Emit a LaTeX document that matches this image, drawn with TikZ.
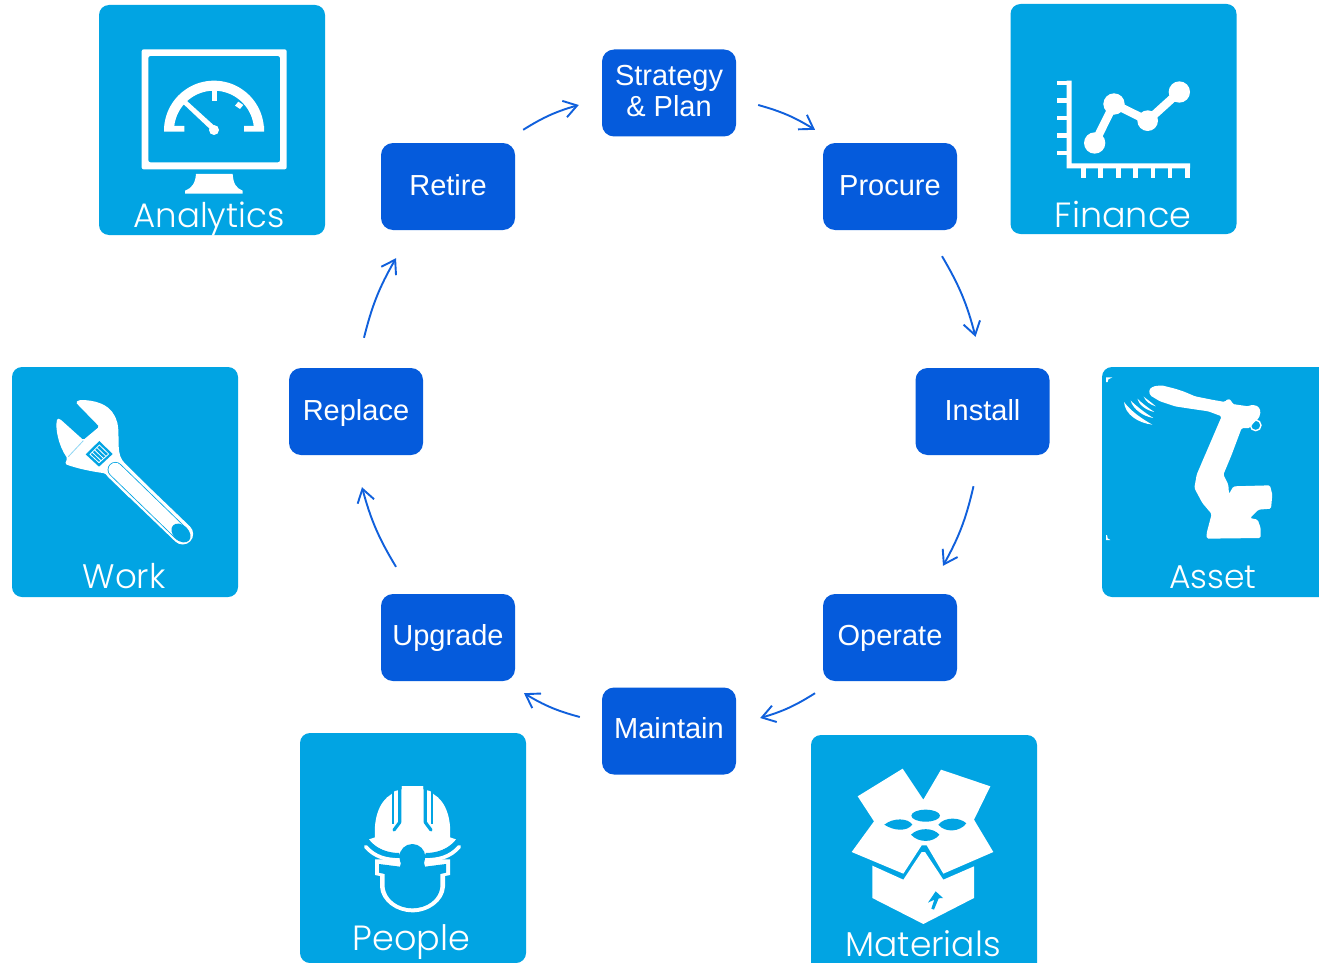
\documentclass[tikz,border=0pt]{standalone}
\usepackage{fontspec}
\setmainfont{Liberation Sans}
\newfontfamily\labfont{Poppins Light}
\usetikzlibrary{arrows.meta}
\definecolor{tileblue}{RGB}{1,164,227}
\definecolor{stepblue}{RGB}{5,91,220}
\definecolor{linkblue}{RGB}{16,96,220}
\tikzset{
  stepbox/.style={draw=none,fill=stepblue,rounded corners=12pt,inner sep=0pt,text=white,align=center,
    minimum width=134pt,minimum height=87pt,font=\fontsize{29}{31}\selectfont},
  oneline/.style={stepbox,align=none,text height=24pt,text depth=6pt},
  tile/.style={draw=none,fill=tileblue,rounded corners=10pt,inner sep=0pt,minimum width=226pt,minimum height=230pt},
  tilelabel/.style={text=white,inner sep=0pt,anchor=base,font=\labfont\fontsize{35}{38}\selectfont},
  link/.style={draw=linkblue,line width=1.9pt,-{Straight Barb[length=13pt,width=17pt,line width=1.9pt]},bend left=8},
  ic/.style={x=0.33333pt,y=-0.33333pt},
}
\begin{document}
\begin{tikzpicture}[x=1pt,y=-1pt]
\useasboundingbox (0,0) rectangle (1319,963);
\clip (0,0) rectangle (1319,963);
\fill[white] (0,0) rectangle (1319,963);
% tiles
\node[tile] (tanalytics) at (212,120) {};
\node[tile] (tfinance) at (1123.5,119) {};
\node[tile,minimum width=240pt] (tasset) at (1222,482) {};
\node[tile] (twork) at (125,482) {};
\node[tile] (tpeople) at (413,848) {};
\node[tile,minimum height=240pt] (tmaterials) at (924,855) {};
% step boxes
\node[stepbox,text depth=3.5pt] (strategy) at (669,93) {Strategy\\\& Plan};
\node[oneline] (procure) at (890,186.5) {Procure};
\node[oneline] (install) at (982.5,411.5) {Install};
\node[oneline,text depth=7.5pt] (operate) at (890,637.5) {Operate};
\node[oneline,text depth=9pt] (maintain) at (669,731) {Maintain};
\node[oneline,text depth=7.5pt] (upgrade) at (448,637.5) {Upgrade};
\node[oneline] (replace) at (356,411.5) {Replace};
\node[oneline] (retire) at (448,186.5) {Retire};
% connectors
\draw[link] ([shift={(8,-13)}]retire.north east) to ([shift={(-23,12)}]strategy.west);
\draw[link] ([shift={(22,12)}]strategy.east) to ([shift={(-75,-13)}]procure.north);
\draw[link] ([shift={(52,26)}]procure.south) to ([shift={(-7,-31)}]install.north);
\draw[link] ([shift={(-9,31)}]install.south) to ([shift={(53,-28)}]operate.north);
\draw[link] ([shift={(-75,12)}]operate.south) to ([shift={(24,-13)}]maintain.east);
\draw[link] ([shift={(-22,-14)}]maintain.west) to ([shift={(76,12)}]upgrade.south);
\draw[link] ([shift={(-52,-27)}]upgrade.north) to ([shift={(6,32)}]replace.south);
\draw[link] ([shift={(8,-30)}]replace.north) to ([shift={(-52,28)}]retire.south);
% labels
\node[tilelabel,font=\labfont\fontsize{34}{38}\selectfont] (lanalytics) at (209,227) {Analytics};
\node[tilelabel] (lfinance) at (1123,227) {Finance};
\node[tilelabel,font=\labfont\fontsize{33}{38}\selectfont] (lasset) at (1213,588) {Asset};
\node[tilelabel,font=\labfont\fontsize{34}{38}\selectfont] (lwork) at (124,588) {Work};
\node[tilelabel] (lpeople) at (411.5,950) {People};
\node[tilelabel,font=\labfont\fontsize{34.5}{38}\selectfont] (lmaterials) at (923,956) {\raisebox{0pt}[\height][0pt]{Materials}};
% --- Analytics icon
\begin{scope}[shift={(90pt,0pt)},ic]
\fill[white,rounded corners=2pt,even odd rule] (155,148) rectangle (590,508) (175,168) rectangle (570,487);
\fill[white] (318,522) -- (428,522) .. controls (430,550) and (438,565) .. (458,572) -- (458,581) -- (285,581) -- (285,572) .. controls (305,565) and (316,550) .. (318,522) -- cycle;
\draw[white,line width=10pt] plot[domain=180:360,samples=50,smooth] ({372+135*cos(\x)},{392+135*sin(\x)});
\fill[white] (222,378) rectangle (283,395) (462,378) rectangle (522,395);
\fill[white] (365,270) rectangle (380,303);
\fill[white] (435,317) -- (445,305) -- (460,315) -- (450,327) -- cycle;
\fill[white] (280,312) -- (290,302) -- (378,382) -- (365,392) -- cycle;
\fill[white] (372,390) circle (15);
\end{scope}
% --- Finance icon
\begin{scope}[shift={(1000pt,0pt)},ic]
\fill[white] (200,242) rectangle (215,505) (200,490) rectangle (570,505);
\foreach \t in {242,295,347,400,452} \fill[white] (172,\t) rectangle (200,\t+14);
\foreach \t in {243,295,348,400,452,503,556} \fill[white] (\t,505) rectangle (\t+14,533);
\draw[white,line width=8.3pt,line join=round] (284,429) -- (342,312) -- (443,362) -- (538,276);
\fill[white] (284,429) circle (32) (342,312) circle (32) (443,362) circle (31) (538,276) circle (32);
\end{scope}
% --- Asset icon
\begin{scope}[shift={(1095pt,-360pt)},ic]
\fill[white] (33,52) -- (52,52) -- (40,58) -- (38,66) -- (33,66) -- cycle;
\fill[white] (33,525) -- (36,525) -- (38,535) -- (46,540) -- (33,540) -- cycle;
\end{scope}
\begin{scope}[shift={(1115pt,-378pt)},ic]
\draw[white,line width=1.4pt] (422,142) circle (16);
\fill[white,rounded corners=1.5pt] (102,35) -- (115,25) -- (140,22) -- (180,32) -- (210,42) -- (240,55) -- (290,65) -- (330,72) -- (338,62) -- (350,68) -- (352,78) -- (400,85) -- (410,80) -- (430,85) -- (437,100) -- (432,120) -- (415,135) -- (405,150) -- (380,150) -- (350,230) -- (325,290) -- (340,320) -- (342,348) -- (355,325) -- (465,322) -- (472,350) -- (468,392) -- (430,395) -- (405,420) -- (428,425) -- (437,450) -- (437,480) -- (275,482) -- (275,465) -- (290,408) -- (262,375) -- (238,330) -- (245,290) -- (262,250) -- (320,115) -- (280,100) -- (225,92) -- (180,85) -- (135,70) -- (105,52) -- cycle;
\fill[white] (27,72) .. controls (30,110) and (70,135) .. (112,140) .. controls (80,122) and (48,100) .. (27,72) -- cycle;
\fill[white] (47,68) .. controls (55,95) and (85,115) .. (115,120) .. controls (90,105) and (65,85) .. (47,68) -- cycle;
\fill[white] (67,62) .. controls (72,82) and (95,97) .. (118,102) .. controls (100,90) and (80,75) .. (67,62) -- cycle;
\fill[white] (86,56) .. controls (92,70) and (105,80) .. (122,85) .. controls (112,75) and (98,66) .. (86,56) -- cycle;
\end{scope}
% --- Work icon
\begin{scope}[shift={(50pt,-395pt)},ic]
\fill[white,rounded corners=1.5pt] (77,22) -- (88,15) .. controls (130,15) and (175,25) .. (195,65) .. controls (215,105) and (195,165) .. (220,200) -- (290,270) -- (240,310) -- (165,235) .. controls (130,230) and (85,222) .. (45,207) -- (52,190) .. controls (25,150) and (15,100) .. (22,70) -- (30,72) -- (100,135) -- (148,95) -- cycle;
\draw[white,line width=21pt,line cap=round] (195,222) -- (398,417);
\draw[tileblue,line width=15.4pt,line cap=round] (196,224) -- (394,416);
\draw[white,line width=13.8pt,line cap=round] (196,224) -- (394,416);
\fill[tileblue,rotate around={-44:(393,414)}] (393,414) ellipse (33 and 23);
\draw[tileblue!45!white,line width=0.8pt] (55,185) -- (100,137);
\fill[tileblue] (107,178) -- (148,138) -- (188,177) -- (147,215) -- cycle;
\draw[white,line width=0.8pt] (120,178) -- (148,150) -- (176,177) -- (147,203) -- cycle;
\draw[white,line width=0.8pt] (126,171) -- (154,198) (133,164) -- (161,191) (140,157) -- (168,184);
\end{scope}
% --- People icon
\begin{scope}[shift={(355pt,-780pt)},ic]
\fill[white] (42,178) -- (60,172) .. controls (56,120) and (70,65) .. (110,42) -- (120,33) -- (140,28) -- (140,18) -- (205,18) -- (205,28) -- (225,33) -- (235,42) .. controls (275,65) and (289,120) .. (285,172) -- (303,178) .. controls (270,218) and (225,225) .. (172,225) .. controls (120,225) and (75,218) .. (42,178) -- cycle;
\draw[tileblue,line width=2.3pt] (115,30) -- (115,132) (230,30) -- (230,132);
\draw[tileblue,line width=3.2pt,line join=round,line cap=round] (134,14) -- (134,127) -- (117,150) (211,14) -- (211,127) -- (228,150);
\draw[tileblue,line width=2pt] (36,184) .. controls (70,214) and (105,222) .. (133,222) (308,184) .. controls (275,214) and (240,222) .. (212,222);
\draw[white,line width=3.7pt,line cap=round] (32,200) .. controls (60,232) and (95,240) .. (135,240) (313,200) .. controls (285,232) and (250,240) .. (210,240);
\fill[white] (60,238) -- (60,285) -- (75,288) -- (75,320) .. controls (78,365) and (125,397) .. (172,397) .. controls (220,397) and (267,365) .. (270,320) -- (270,288) -- (285,285) -- (285,238) -- cycle;
\fill[tileblue] (72,252) -- (135,260) -- (140,240) -- (205,240) -- (210,260) -- (273,252) -- (273,278) -- (256,282) -- (256,320) .. controls (253,358) and (215,385) .. (172,385) .. controls (130,385) and (92,358) .. (89,320) -- (89,282) -- (72,278) -- cycle;
\fill[tileblue] (172,231) circle (39);
\end{scope}
% --- Materials icon
\begin{scope}[shift={(805pt,-728pt)},ic]
\fill[white] (158,205) -- (293,122) -- (355,215) -- (408,125) -- (556,175) -- (507,275) -- (565,372) -- (415,437) -- (365,352) -- (350,352) -- (295,437) -- (140,372) -- (207,280) -- cycle;
\fill[white] (202,413) -- (295,455) -- (350,372) -- (360,372) -- (415,455) -- (507,415) -- (507,510) -- (355,588) -- (202,510) -- cycle;
\fill[tileblue] (362,263) ellipse (43 and 18);
\fill[tileblue] (238,290) .. controls (265,268) and (310,270) .. (322,290) .. controls (305,312) and (265,308) .. (238,290) -- cycle;
\fill[tileblue] (318,320) .. controls (340,298) and (385,298) .. (403,320) .. controls (385,345) and (340,345) .. (318,320) -- cycle;
\fill[tileblue] (400,290) .. controls (420,265) and (465,268) .. (484,286) .. controls (465,312) and (420,315) .. (400,290) -- cycle;
\fill[tileblue] (392,490) -- (414,510) -- (401,511) -- (387,545) -- (379,542) -- (388,515) -- (369,524) -- cycle;
\end{scope}
\end{tikzpicture}
\end{document}
